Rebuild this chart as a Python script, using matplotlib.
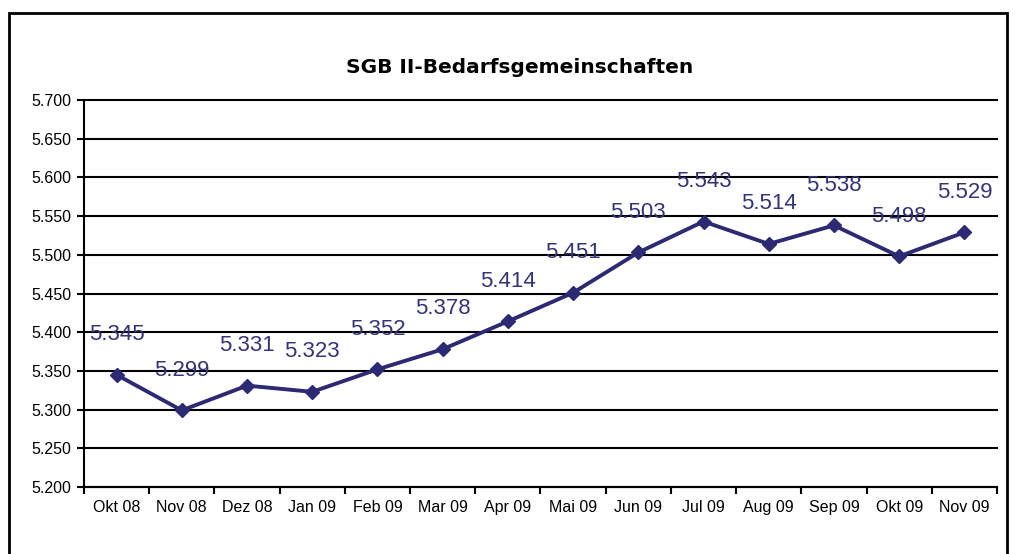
import matplotlib.pyplot as plt
from matplotlib.patches import Rectangle

# data
months = ['Okt 08', 'Nov 08', 'Dez 08', 'Jan 09', 'Feb 09', 'Mar 09', 'Apr 09',
          'Mai 09', 'Jun 09', 'Jul 09', 'Aug 09', 'Sep 09', 'Okt 09', 'Nov 09']
values = [5.345, 5.299, 5.331, 5.323, 5.352, 5.378, 5.414,
          5.451, 5.503, 5.543, 5.514, 5.538, 5.498, 5.529]
labels = ['5.345', '5.299', '5.331', '5.323', '5.352', '5.378', '5.414',
          '5.451', '5.503', '5.543', '5.514', '5.538', '5.498', '5.529']
yticks = [5.2, 5.25, 5.3, 5.35, 5.4, 5.45, 5.5, 5.55, 5.6, 5.65, 5.7]
ytick_labels = ['5.200', '5.250', '5.300', '5.350', '5.400', '5.450',
                '5.500', '5.550', '5.600', '5.650', '5.700']

plt.rcParams['font.family'] = ['Liberation Sans', 'DejaVu Sans']

navy = '#2B2A72'

fig = plt.figure(figsize=(10.19, 5.54), dpi=100)
ax = fig.add_axes([0.0824, 0.1209, 0.8960, 0.6986])

x = list(range(len(months)))
ax.plot(x, values, color=navy, lw=2.8, marker='D', markersize=7.5, zorder=3)

for xi, v, lab in zip(x, values, labels):
    ax.annotate(lab, (xi, v), xytext=(0, 29), textcoords='offset points',
                ha='center', va='center', fontsize=16, color='#33337A')

ax.set_xlim(-0.5, len(months) - 0.5)
ax.set_ylim(5.2, 5.7)
ax.set_yticks(yticks)
ax.set_yticklabels(ytick_labels, fontsize=11.5)
ax.yaxis.grid(True, color='black', lw=1.5)
for gl in ax.get_ygridlines():
    gl.set_clip_on(False)
ax.set_axisbelow(True)

ax.set_xticks(x)
ax.set_xticklabels(months, fontsize=11.5)
ax.set_xticks([i - 0.5 for i in range(len(months) + 1)], minor=True)
ax.tick_params(axis='x', which='major', length=0, pad=9)
ax.tick_params(axis='x', which='minor', length=5, width=1.5, direction='out')
ax.tick_params(axis='y', length=5, width=1.5, direction='out', pad=4)

for s in ['top', 'right']:
    ax.spines[s].set_visible(False)
ax.spines['left'].set_linewidth(1.5)
ax.spines['bottom'].set_linewidth(1.5)

fig.suptitle('SGB II-Bedarfsgemeinschaften', x=0.51, y=0.895, fontsize=14.5,
             fontweight='bold', family=['DejaVu Sans'])

# outer frame around the chart
fig.patches.append(Rectangle((0.0093, -0.05), 0.979, 1.0265, transform=fig.transFigure,
                             fill=False, edgecolor='black', lw=2))

fig.savefig('out.png', dpi=100)
